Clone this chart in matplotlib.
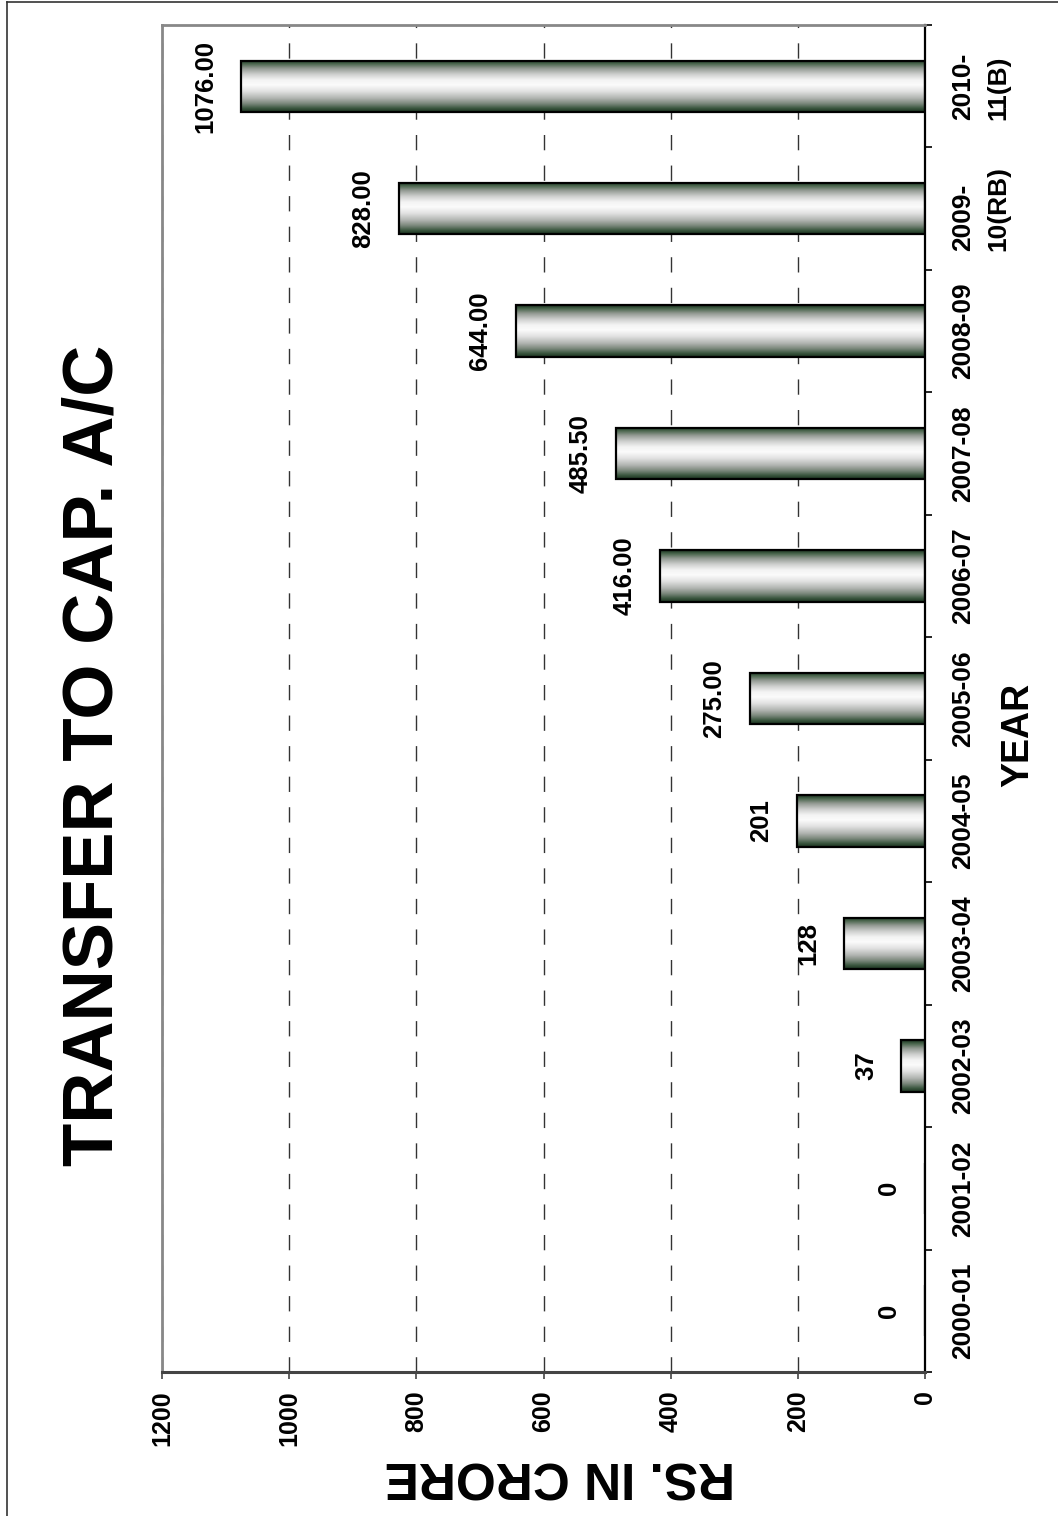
import numpy as np
import matplotlib
matplotlib.use("Agg")
import matplotlib.pyplot as plt
from matplotlib.colors import LinearSegmentedColormap
from matplotlib.lines import Line2D
from matplotlib.transforms import blended_transform_factory, offset_copy

# ---- data ----
years = ["2000-01", "2001-02", "2002-03", "2003-04", "2004-05", "2005-06",
         "2006-07", "2007-08", "2008-09", "2009-\n10(RB)", "2010-\n11(B)"]
values = [0, 0, 37, 128, 201, 275.00, 416.00, 485.50, 644.00, 828.00, 1076.00]
value_labels = ["0", "0", "37", "128", "201", "275.00", "416.00", "485.50",
                "644.00", "828.00", "1076.00"]
value_ticks = [0, 200, 400, 600, 800, 1000, 1200]

title = "TRANSFER TO CAP. A/C"
xlabel = "YEAR"
ylabel = "RS. IN CRORE"

plt.rcParams['font.family'] = ['Liberation Sans', 'DejaVu Sans']
plt.rcParams['font.weight'] = 'bold'

W, H = 1058, 1516
fig = plt.figure(figsize=(W / 100, H / 100), dpi=100)
ax = fig.add_axes([162 / W, (H - 1372) / H, (925 - 162) / W, (1372 - 25) / H])

ypos = np.arange(len(years))
bars = ax.barh(ypos, values, height=0.42, facecolor='none',
               edgecolor='black', linewidth=1.6, zorder=3)

grad_cmap = LinearSegmentedColormap.from_list("bar", [
    (0.00, "#1a311e"), (0.07, "#3a563e"), (0.16, "#7a877b"),
    (0.27, "#b3b6b3"), (0.40, "#e2e2e2"), (0.52, "#fbfbfb"),
    (0.62, "#f3f3f3"), (0.73, "#cdcecd"), (0.84, "#939a93"),
    (0.93, "#4a664d"), (1.00, "#1a311e")])
grad = np.linspace(0, 1, 256).reshape(-1, 1)
for b in bars:
    if b.get_width() <= 0:
        continue
    x0, y0 = b.get_x(), b.get_y()
    ax.imshow(grad, cmap=grad_cmap, aspect='auto', origin='lower',
              extent=[x0, x0 + b.get_width(), y0, y0 + b.get_height()],
              interpolation='bilinear', zorder=2)

for yv, v, lab in zip(ypos, values, value_labels):
    ax.annotate(lab, (v, yv), xytext=(-17, 0), textcoords='offset points',
                rotation=90, ha='right', va='center', fontsize=18.5,
                fontweight='bold', zorder=4)

ax.set_xlim(1200, 0)
ax.set_ylim(-0.5, len(years) - 0.5)

# value axis
ax.set_xticks(value_ticks)
ax.set_xticklabels([str(t) for t in value_ticks], rotation=90,
                   fontsize=18, fontweight='bold')
ax.tick_params(axis='x', direction='out', length=5, width=1.2,
               color='#444444', pad=8)
ax.xaxis.grid(True, linestyle=(0, (11, 11)), linewidth=1.0, color='#333333')
ax.set_axisbelow(True)

# category axis on right: boundary ticks, labels as text
ax.yaxis.tick_right()
ax.set_yticks(np.arange(len(years) + 1) - 0.5)
ax.set_yticklabels([])
ax.tick_params(axis='y', which='major', direction='out', length=5,
               width=1.2, color='black')
cat_trans = offset_copy(blended_transform_factory(ax.transAxes, ax.transData),
                        fig=fig, x=26, y=0, units='dots')
for yv, lab in zip(ypos, years):
    ax.text(1.0, yv, lab, transform=cat_trans, rotation=90, ha='left',
            va='center', fontsize=19, fontweight='bold', linespacing=1.6,
            clip_on=False)

for side, col, lw in [('top', '#888888', 2.0), ('left', '#888888', 2.0),
                      ('right', 'black', 1.6), ('bottom', '#444444', 2.2)]:
    ax.spines[side].set_color(col)
    ax.spines[side].set_linewidth(lw)

# texts
fig.text(95 / W, 1 - 755 / H, title, rotation=90, fontsize=51,
         fontweight='bold', ha='center', va='center')
fig.text(1018 / W, 1 - 735 / H, xlabel, rotation=90, fontsize=27,
         fontweight='bold', ha='center', va='center')
fig.text(560 / W, 1 - 1475 / H, ylabel, rotation=180, fontsize=37,
         fontweight='bold', ha='center', va='center')

# outer frame (left and top visible)
fig.add_artist(Line2D([7 / W, 7 / W], [0, 1 - 2 / H], color='#333333',
                      linewidth=1.2, transform=fig.transFigure))
fig.add_artist(Line2D([7 / W, 1], [1 - 2 / H, 1 - 2 / H], color='#333333',
                      linewidth=1.2, transform=fig.transFigure))

fig.savefig("out.png", dpi=100)
